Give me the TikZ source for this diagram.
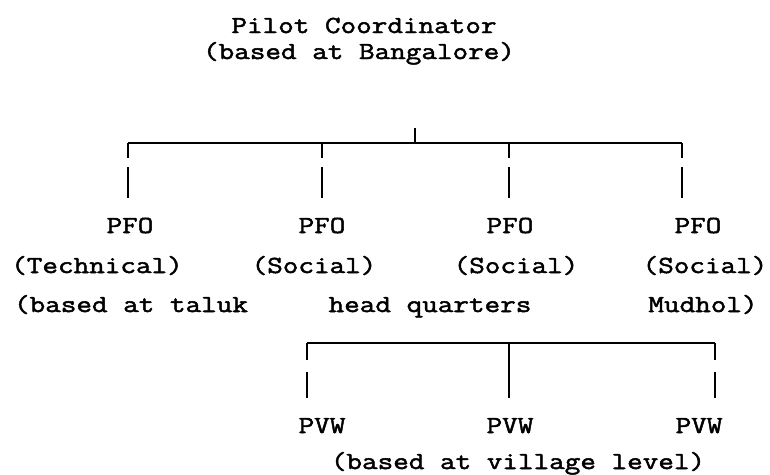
\documentclass[tikz,border=0pt]{standalone}
\usepackage{fontspec}
\setmonofont{Latin Modern Mono}[FakeStretch=1.236, FakeBold=2]
\begin{document}
\begin{tikzpicture}[x=1pt,y=-1pt,
  txt/.style={font=\ttfamily\fontsize{24.5}{28}\selectfont, inner sep=0pt, anchor=base},
  lbl/.style={txt, text height=15pt, text depth=0pt},
  conn/.style={line width=1.6pt},
  upv/.style={conn, dash pattern=on 15pt off 9pt on 40pt, shorten >=20pt},
  lowv/.style={conn, dash pattern=on 17pt off 12pt on 40pt, shorten >=20pt},
  lowmid/.style={conn, shorten >=20pt}]
\useasboundingbox (0,0) rectangle (770,474);
% top
\node[txt] (pc)  at (364,33) {Pilot Coordinator};
\node[txt] (pcb) at (359,59) {(based at Bangalore)};
% upper bar
\coordinate (top) at (415,128);
\coordinate (j)   at (415,143);
\coordinate (b1)  at (128,143);
\coordinate (b2)  at (322,143);
\coordinate (b3)  at (509,143);
\coordinate (b4)  at (682,143);
% PFO row
\node[lbl] (pfo1) at (130,233) {PFO};
\node[lbl] (pfo2) at (322,233) {PFO};
\node[lbl] (pfo3) at (510,233) {PFO};
\node[lbl] (pfo4) at (698,233) {PFO};
\node[txt] (r2a) at (97,273) {(Technical)};
\node[txt] (r2b) at (314,273) {(Social)};
\node[txt] (r2c) at (516,273) {(Social)};
\node[txt] (r2d) at (705,273) {(Social)};
\node[txt] (r3a) at (131,312) {(based at taluk};
\node[txt] (r3b) at (430,312) {head quarters};
\node[txt] (r3c) at (703,312) {Mudhol)};
\draw[conn] (top) -- (j);
\draw[conn] (b1) -- (b4);
\draw[upv] (b1) -- (b1 |- pfo1.north);
\draw[upv] (b2) -- (b2 |- pfo2.north);
\draw[upv] (b3) -- (b3 |- pfo3.north);
\draw[upv] (b4) -- (b4 |- pfo4.north);
% lower bar
\coordinate (c1) at (307,343);
\coordinate (c2) at (509,343);
\coordinate (c3) at (715,343);
\node[lbl] (pvw1) at (322,433) {PVW};
\node[lbl] (pvw2) at (510,433) {PVW};
\node[lbl] (pvw3) at (699,433) {PVW};
\node[txt] (pvwb) at (518,469) {(based at village level)};
\draw[conn] (c1) -- (c3);
\draw[lowv] (c1) -- (c1 |- pvw1.north);
\draw[lowmid] (c2) -- (c2 |- pvw2.north);
\draw[lowv] (c3) -- (c3 |- pvw3.north);
\end{tikzpicture}
\end{document}
